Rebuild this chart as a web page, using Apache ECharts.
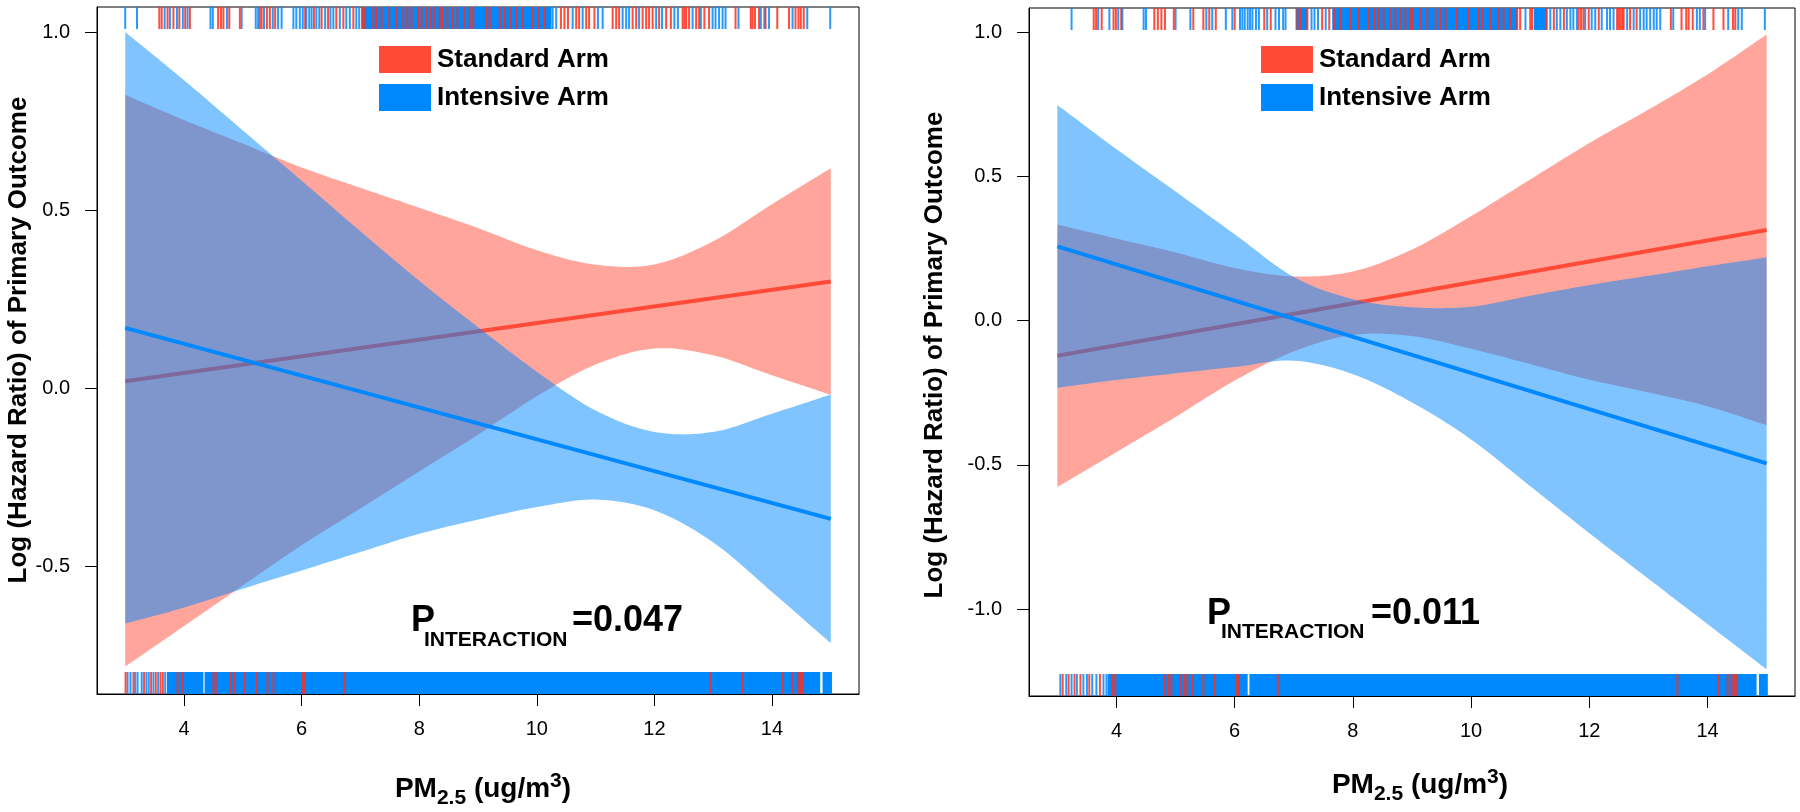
<!DOCTYPE html>
<html><head><meta charset="utf-8">
<script src="https://cdn.jsdelivr.net/npm/echarts@6/dist/echarts.min.js"></script>
<style>html,body{margin:0;padding:0;background:#fff}#c{width:1800px;height:812px}</style>
</head><body><div id="c"></div>
<script>
// ---------------- DATA ----------------
const bandX = [3, 4, 5, 6, 7, 8, 9, 10, 11, 12, 13, 14, 15];
const lineX = [3, 15];

// Left panel (P interaction = 0.047)
const leftStdLine = [0.02, 0.30];
const leftIntLine = [0.17, -0.366];
const leftStdUpper = [0.824, 0.753, 0.687, 0.62, 0.563, 0.507, 0.45, 0.388, 0.347, 0.348, 0.413, 0.517, 0.618];
const leftStdLower = [-0.78, -0.667, -0.553, -0.44, -0.337, -0.233, -0.13, -0.022, 0.067, 0.112, 0.093, 0.037, -0.018];
const leftIntUpper = [1.0, 0.865, 0.724, 0.583, 0.441, 0.302, 0.172, 0.047, -0.062, -0.122, -0.122, -0.071, -0.017];
const leftIntLower = [-0.66, -0.615, -0.562, -0.511, -0.459, -0.408, -0.368, -0.333, -0.312, -0.342, -0.432, -0.571, -0.715];

// Right panel (P interaction = 0.011)
const rightStdLine = [-0.122, 0.314];
const rightIntLine = [0.257, -0.495];
const rightStdUpper = [0.333, 0.284, 0.236, 0.182, 0.153, 0.17, 0.246, 0.362, 0.489, 0.615, 0.731, 0.853, 0.991];
const rightStdLower = [-0.577, -0.456, -0.334, -0.208, -0.107, -0.05, -0.054, -0.098, -0.151, -0.205, -0.249, -0.297, -0.363];
const rightIntUpper = [0.747, 0.594, 0.447, 0.299, 0.151, 0.074, 0.046, 0.048, 0.086, 0.123, 0.155, 0.188, 0.219];
const rightIntLower = [-0.233, -0.206, -0.183, -0.161, -0.139, -0.186, -0.284, -0.412, -0.574, -0.737, -0.895, -1.052, -1.209];

// Rugs (PM2.5 values)
const leftTopBlue = [3.0, 3.2, 3.67, 3.76, 3.88, 3.98, 4.06, 4.45, 4.49, 4.73, 4.98, 5.22, 5.26, 5.36, 5.51, 5.6, 5.66, 5.86, 5.91, 5.97, 6.02, 6.08, 6.13, 6.17, 6.25, 6.3, 6.4, 6.49, 6.54, 6.65, 6.76, 6.82, 6.93, 6.98, 10.27, 10.33, 10.61, 10.78, 11.04, 11.12, 11.46, 11.52, 11.57, 11.74, 12.03, 12.13, 12.34, 12.4, 12.65, 12.79, 12.99, 13.04, 13.1, 13.16, 13.21, 13.43, 13.81, 13.87, 13.95, 14.35, 14.6, 14.99];
const leftTopBlueSpans = [[7.02, 10.25]];
const leftTopRed = [3.58, 3.62, 3.72, 3.82, 3.92, 4.02, 4.1, 4.58, 4.63, 4.67, 4.77, 4.95, 5.29, 5.32, 5.41, 5.46, 5.55, 6.06, 6.21, 6.34, 6.45, 6.59, 6.71, 6.88, 7.03, 7.08, 7.22, 7.27, 7.36, 7.49, 7.62, 7.73, 7.8, 7.87, 7.98, 8.04, 8.13, 8.2, 8.25, 8.35, 8.4, 8.48, 8.57, 8.65, 8.76, 8.86, 8.92, 9.14, 9.2, 9.37, 9.45, 9.56, 9.65, 9.76, 9.93, 10.02, 10.13, 10.41, 10.47, 10.53, 10.67, 10.72, 10.84, 10.89, 10.98, 11.29, 11.35, 11.4, 11.63, 11.69, 11.8, 11.86, 11.91, 11.97, 12.08, 12.2, 12.28, 12.48, 12.51, 12.54, 12.59, 12.71, 12.76, 12.85, 12.93, 13.38, 13.64, 13.67, 13.71, 13.78, 13.89, 14.09, 14.29, 14.4, 14.45, 14.49, 14.54];
const leftBottomBlueSpans = [[3.71, 4.33], [4.35, 14.82], [14.86, 15.02]];
const leftBottomBlue = [3.04, 3.09, 3.17, 3.21, 3.28, 3.36, 3.4, 3.48, 3.56, 3.68];
const leftBottomRed = [3.006, 3.14, 3.32, 3.44, 3.52, 3.6, 3.64, 3.89, 3.97, 4.5, 4.54, 4.79, 4.85, 5.02, 5.23, 5.42, 5.52, 6.01, 6.05, 6.72, 12.95, 13.49, 14.17, 14.34, 14.44, 14.48, 14.52];

const rightTopBlue = [3.24, 3.69, 3.88, 4.03, 4.1, 4.46, 4.5, 5.0, 5.25, 5.52, 5.62, 5.85, 5.96, 6.09, 6.13, 6.17, 6.22, 6.26, 6.3, 6.36, 6.41, 6.55, 6.69, 6.75, 6.82, 6.86, 7.3, 7.35, 7.41, 7.54, 10.92, 11.34, 11.45, 11.51, 11.62, 11.68, 11.73, 11.79, 11.93, 12.04, 12.1, 12.21, 12.3, 12.35, 12.41, 12.64, 12.75, 12.86, 12.92, 12.97, 13.03, 13.09, 13.14, 13.2, 13.42, 13.82, 13.87, 13.96, 14.35, 14.52, 14.58, 14.97];
const rightTopBlueSpans = [[7.03, 7.23], [7.65, 10.78], [11.06, 11.28]];
const rightTopRed = [3.615, 3.655, 3.75, 3.95, 3.99, 4.08, 4.64, 4.7, 4.76, 4.82, 4.97, 5.3, 5.47, 5.57, 5.68, 6.0, 6.5, 6.61, 7.06, 7.12, 7.23, 7.48, 7.6, 7.68, 7.79, 7.96, 8.1, 8.27, 8.36, 8.44, 8.52, 8.63, 8.72, 8.81, 8.89, 8.97, 9.0, 9.14, 9.26, 9.4, 9.48, 9.57, 9.76, 9.96, 10.13, 10.19, 10.33, 10.47, 10.55, 10.66, 10.78, 10.83, 11.0, 11.03, 11.28, 11.4, 11.57, 11.82, 11.86, 11.9, 11.99, 12.16, 12.47, 12.5, 12.53, 12.56, 12.58, 12.69, 12.8, 13.38, 13.56, 13.64, 13.68, 13.75, 13.93, 14.1, 14.27, 14.43, 14.47];
const rightBottomBlueSpans = [[3.85, 6.22], [6.25, 14.83], [14.87, 15.02]];
const rightBottomBlue = [3.05, 3.15, 3.24, 3.33, 3.44, 3.5, 3.59, 3.66, 3.78, 3.83];
const rightBottomRed = [3.09, 3.19, 3.29, 3.39, 3.54, 3.72, 3.93, 3.98, 4.82, 4.88, 4.93, 5.08, 5.15, 5.2, 5.28, 5.47, 5.65, 6.04, 6.07, 6.73, 13.49, 14.18, 14.34, 14.41, 14.46, 14.5];

const xTicks = [4, 6, 8, 10, 12, 14];
const leftYTicks = [-0.5, 0.0, 0.5, 1.0];
const rightYTicks = [-1.0, -0.5, 0.0, 0.5, 1.0];
const seriesNames = ['Standard Arm', 'Intensive Arm'];
const yTitle = 'Log (Hazard Ratio) of Primary Outcome';
const pLabels = ['=0.047', '=0.011'];

// ---------------- STYLE ----------------
const FONT = '"Liberation Sans", Arial, Helvetica, sans-serif';
const RED = '#FF4B38', BLUE = '#0088FF';
const RUG_LEN = 22;

const chart = echarts.init(document.getElementById('c'), null, {renderer: 'canvas'});

const mctx = document.createElement('canvas').getContext('2d');
function midOffset(px) { mctx.font = `bold ${px}px ${FONT}`; mctx.textBaseline = 'middle'; return mctx.measureText('H').actualBoundingBoxDescent; }
function textW(s, px) { mctx.font = `bold ${px}px ${FONT}`; mctx.textBaseline = 'alphabetic'; return mctx.measureText(s).width; }
function tok(s, x, baseline, px) {
  return {type: 'text', x: x, y: baseline - midOffset(px), silent: true, z: 100,
    style: {text: s, font: `bold ${px}px ${FONT}`, fill: '#000', textAlign: 'left', textVerticalAlign: 'middle', align: 'left', verticalAlign: 'middle'}};
}
function seq(tokens, cx) {
  const total = tokens.reduce((a, t) => a + textW(t.s, t.px), 0);
  let x = cx - total / 2; const out = [];
  tokens.forEach(t => { out.push(tok(t.s, x, t.b, t.px)); x += textW(t.s, t.px); });
  return out;
}

// Catmull-Rom curve through pixel points (rendering only)
function spline(pts, steps) {
  const out = [];
  for (let i = 0; i < pts.length - 1; i++) {
    const p0 = pts[Math.max(i - 1, 0)], p1 = pts[i], p2 = pts[i + 1], p3 = pts[Math.min(i + 2, pts.length - 1)];
    for (let s = 0; s < steps; s++) {
      const t = s / steps, t2 = t * t, t3 = t2 * t;
      const f = k => 0.5 * ((2 * p1[k]) + (-p0[k] + p2[k]) * t + (2 * p0[k] - 5 * p1[k] + 4 * p2[k] - p3[k]) * t2 + (-p0[k] + 3 * p1[k] - 3 * p2[k] + p3[k]) * t3);
      out.push([f(0), f(1)]);
    }
  }
  out.push(pts[pts.length - 1]);
  return out;
}
function band(gi, upper, lower, color, z) {
  return {type: 'custom', xAxisIndex: gi, yAxisIndex: gi, silent: true, z: z,
    data: bandX.map((x, i) => [x, upper[i], lower[i]]),
    encode: {x: 0, y: [1, 2]},
    renderItem: (params, api) => {
      if (params.dataIndex !== 0) return null;
      const up = bandX.map((x, i) => api.coord([x, upper[i]]));
      const lo = bandX.map((x, i) => api.coord([x, lower[i]]));
      const pts = spline(up, 12).concat(spline(lo, 12).reverse());
      return {type: 'polygon', shape: {points: pts}, style: {fill: color, opacity: 0.5}};
    }};
}
function pair(xs, ys) { return xs.map((x, i) => [x, ys[i]]); }
function line(gi, name, ys, color, z) {
  return {type: 'line', name: name, xAxisIndex: gi, yAxisIndex: gi, data: pair(lineX, ys), symbol: 'none', silent: true, z: z, lineStyle: {color: color, width: 4}, itemStyle: {color: color}};
}
function rug(gi, xs, color, pos, z) {
  return {type: 'custom', xAxisIndex: gi, yAxisIndex: gi, silent: true, z: z, data: xs.map(x => [x, 0]),
    renderItem: (params, api) => {
      const px = api.coord([api.value(0), 0])[0];
      const cs = params.coordSys;
      const y0 = pos === 'top' ? cs.y : cs.y + cs.height - RUG_LEN;
      return {type: 'line', shape: {x1: px, y1: y0, x2: px, y2: y0 + RUG_LEN}, style: {stroke: color, lineWidth: 2}};
    }};
}
function rugSpans(gi, spans, color, pos, z) {
  return {type: 'custom', xAxisIndex: gi, yAxisIndex: gi, silent: true, z: z, data: spans.map(s => [s[0], s[1]]),
    renderItem: (params, api) => {
      const a = api.coord([api.value(0), 0])[0], b = api.coord([api.value(1), 0])[0];
      const cs = params.coordSys;
      const y0 = pos === 'top' ? cs.y : cs.y + cs.height - RUG_LEN;
      return {type: 'rect', shape: {x: a, y: y0, width: b - a, height: RUG_LEN}, style: {fill: color}};
    }};
}
function xAxisCfg(gi) {
  return {type: 'value', gridIndex: gi, min: 2.52, max: 15.48, splitLine: {show: false},
    axisLine: {show: true, onZero: false, lineStyle: {color: '#000', width: 1}},
    axisTick: {show: true, length: 12, customValues: xTicks, lineStyle: {color: '#000', width: 1}},
    axisLabel: {customValues: xTicks, margin: 25, fontSize: 20, fontFamily: FONT, color: '#000'}};
}
function yAxisCfg(gi, min, max, ticks) {
  return {type: 'value', gridIndex: gi, min: min, max: max, splitLine: {show: false},
    axisLine: {show: true, onZero: false, lineStyle: {color: '#000', width: 1}},
    axisTick: {show: true, length: 12, customValues: ticks, lineStyle: {color: '#000', width: 1}},
    axisLabel: {customValues: ticks, margin: 27, fontSize: 20, fontFamily: FONT, color: '#000', formatter: v => v.toFixed(1)}};
}
function legendCfg(left) {
  return {left: left, top: 46, orient: 'vertical', itemGap: 11, itemWidth: 52, itemHeight: 27, padding: 0, selectedMode: false,
    textStyle: {fontFamily: FONT, fontWeight: 'bold', fontSize: 26, color: '#000', padding: [0, 0, 0, 1]},
    data: [{name: seriesNames[0], icon: 'rect', itemStyle: {color: RED, borderWidth: 0}, lineStyle: {width: 0}},
           {name: seriesNames[1], icon: 'rect', itemStyle: {color: BLUE, borderWidth: 0}, lineStyle: {width: 0}}]};
}

const series = [];
[[0, leftStdUpper, leftStdLower, leftIntUpper, leftIntLower, leftStdLine, leftIntLine],
 [1, rightStdUpper, rightStdLower, rightIntUpper, rightIntLower, rightStdLine, rightIntLine]].forEach(p => {
  const gi = p[0];
  series.push(band(gi, p[1], p[2], RED, 1));
  series.push(line(gi, seriesNames[0], p[5], RED, 2));
  series.push(band(gi, p[3], p[4], BLUE, 3));
  series.push(line(gi, seriesNames[1], p[6], BLUE, 4));
});
const RUG_RED = 'rgba(255,45,25,0.85)', RUG_BLUE = 'rgba(0,136,255,0.85)';
series.push(rugSpans(0, leftTopBlueSpans, BLUE, 'top', 5), rug(0, leftTopBlue, RUG_BLUE, 'top', 5), rug(0, leftTopRed, RUG_RED, 'top', 6));
series.push(rugSpans(0, leftBottomBlueSpans, BLUE, 'bottom', 5), rug(0, leftBottomBlue, RUG_BLUE, 'bottom', 5), rug(0, leftBottomRed, RUG_RED, 'bottom', 6));
series.push(rugSpans(1, rightTopBlueSpans, BLUE, 'top', 5), rug(1, rightTopBlue, RUG_BLUE, 'top', 5), rug(1, rightTopRed, RUG_RED, 'top', 6));
series.push(rugSpans(1, rightBottomBlueSpans, BLUE, 'bottom', 5), rug(1, rightBottomBlue, RUG_BLUE, 'bottom', 5), rug(1, rightBottomRed, RUG_RED, 'bottom', 6));

const graphics = [];
[[19, 340], [935, 355]].forEach(p => graphics.push({type: 'text', x: p[0], y: p[1], rotation: Math.PI / 2, silent: true,
  style: {text: yTitle, font: `bold 26px ${FONT}`, fill: '#000', textAlign: 'center', textVerticalAlign: 'middle', align: 'center', verticalAlign: 'middle'}}));
[[483, 797], [1420, 793]].forEach(p => graphics.push(...seq([
  {s: 'PM', px: 28, b: p[1]}, {s: '2.5', px: 21, b: p[1] + 7}, {s: ' (ug/m', px: 28, b: p[1]}, {s: '3', px: 21, b: p[1] - 10}, {s: ')', px: 28, b: p[1]}
], p[0])));
[[411, 424, 572, 631, 646, 0], [1207, 1221, 1371, 624, 638, 1]].forEach(p => {
  graphics.push(tok('P', p[0], p[3], 36), tok('INTERACTION', p[1], p[4], 21), tok(pLabels[p[5]], p[2], p[3], 36));
});

chart.setOption({
  backgroundColor: '#fff',
  animation: false,
  grid: [
    {left: 97, top: 7, width: 762, height: 687, show: true, borderColor: '#000', borderWidth: 1, backgroundColor: 'transparent'},
    {left: 1029, top: 8, width: 766, height: 688, show: true, borderColor: '#000', borderWidth: 1, backgroundColor: 'transparent'}
  ],
  xAxis: [xAxisCfg(0), xAxisCfg(1)],
  yAxis: [yAxisCfg(0, -0.8575, 1.0704, leftYTicks), yAxisCfg(1, -1.3013, 1.0832, rightYTicks)],
  legend: [legendCfg(379), legendCfg(1261)],
  series: series,
  graphic: graphics
});
</script></body></html>
